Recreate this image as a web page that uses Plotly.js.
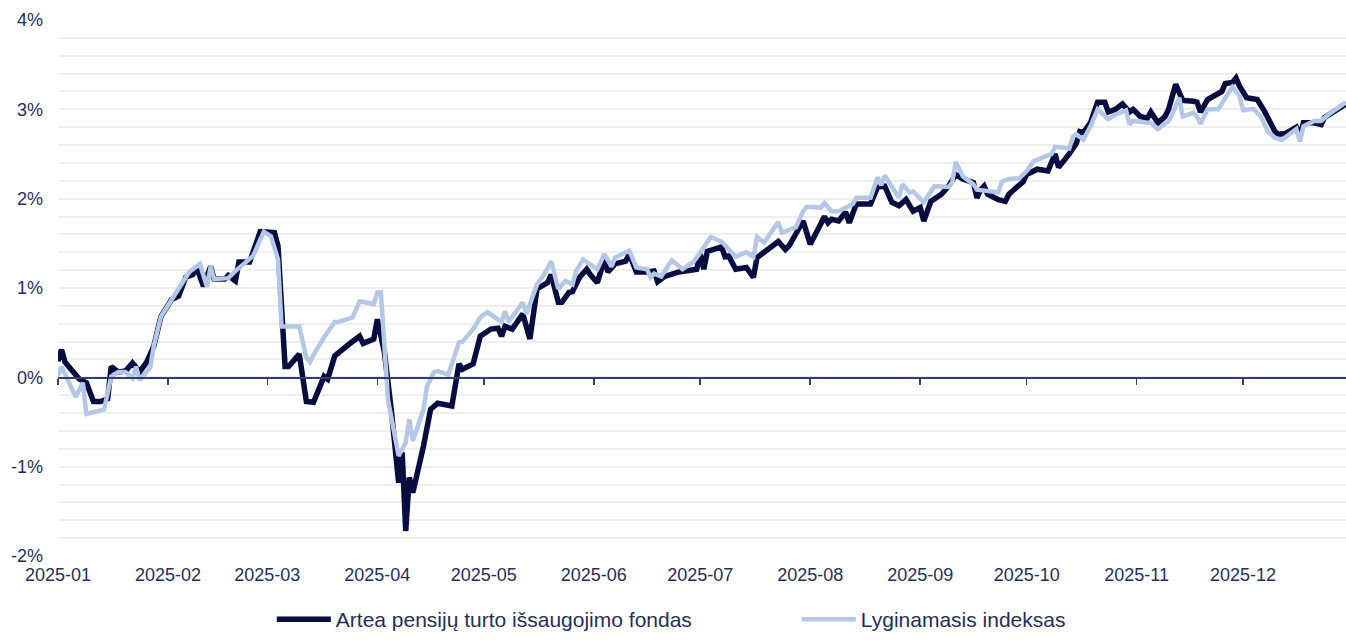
<!DOCTYPE html>
<html>
<head>
<meta charset="utf-8">
<script src="https://cdn.plot.ly/plotly-3.0.1.min.js"></script>
<style>
html,body{margin:0;padding:0;background:#fff;}
#chart{width:1346px;height:640px;}
</style>
</head>
<body>
<div id="chart"></div>
<script>
// ---- Data (percent return since start of year) ----
const seriesNames = ["Artea pensijų turto išsaugojimo fondas", "Lyginamasis indeksas"];

const fundDates = [
"2025-01-01","2025-01-02","2025-01-03","2025-01-06","2025-01-07","2025-01-09","2025-01-11","2025-01-13","2025-01-15","2025-01-16",
"2025-01-18","2025-01-20","2025-01-22","2025-01-24","2025-01-26","2025-01-28","2025-01-30","2025-02-02","2025-02-04","2025-02-06",
"2025-02-08","2025-02-09","2025-02-11","2025-02-13","2025-02-14","2025-02-17","2025-02-18","2025-02-20","2025-02-21","2025-02-24",
"2025-02-25","2025-02-27","2025-03-03","2025-03-04","2025-03-06","2025-03-07","2025-03-10","2025-03-12","2025-03-14","2025-03-17",
"2025-03-18","2025-03-20","2025-03-24","2025-03-27","2025-03-28","2025-03-31","2025-04-01","2025-04-03","2025-04-05","2025-04-07",
"2025-04-08","2025-04-09","2025-04-10","2025-04-11","2025-04-14","2025-04-16","2025-04-18","2025-04-22","2025-04-24","2025-04-25",
"2025-04-28","2025-04-30","2025-05-03","2025-05-05","2025-05-06","2025-05-07","2025-05-09","2025-05-12","2025-05-14","2025-05-16",
"2025-05-19","2025-05-20","2025-05-22","2025-05-23","2025-05-25","2025-05-26","2025-05-28","2025-05-30","2025-05-31","2025-06-02",
"2025-06-04","2025-06-05","2025-06-07","2025-06-10","2025-06-11","2025-06-13","2025-06-16","2025-06-18","2025-06-19","2025-06-21",
"2025-06-25","2025-06-28","2025-06-30","2025-07-01","2025-07-02","2025-07-03","2025-07-07","2025-07-08","2025-07-09","2025-07-11",
"2025-07-14","2025-07-16","2025-07-17","2025-07-19","2025-07-23","2025-07-25","2025-07-26","2025-07-30","2025-08-01","2025-08-04",
"2025-08-05","2025-08-06","2025-08-07","2025-08-09","2025-08-11","2025-08-12","2025-08-14","2025-08-18","2025-08-20","2025-08-22",
"2025-08-24","2025-08-26","2025-08-28","2025-08-30","2025-09-01","2025-09-02","2025-09-04","2025-09-07","2025-09-09","2025-09-11",
"2025-09-13","2025-09-16","2025-09-17","2025-09-18","2025-09-19","2025-09-20","2025-09-23","2025-09-25","2025-09-26","2025-09-30",
"2025-10-01","2025-10-04","2025-10-07","2025-10-09","2025-10-10","2025-10-13","2025-10-15","2025-10-16","2025-10-17","2025-10-19",
"2025-10-21","2025-10-23","2025-10-24","2025-10-26","2025-10-28","2025-10-30","2025-10-31","2025-11-02","2025-11-04","2025-11-05",
"2025-11-07","2025-11-09","2025-11-10","2025-11-12","2025-11-14","2025-11-17","2025-11-18","2025-11-19","2025-11-21","2025-11-25",
"2025-11-26","2025-11-28","2025-11-29","2025-11-30","2025-12-02","2025-12-05","2025-12-07","2025-12-10","2025-12-11","2025-12-13",
"2025-12-16","2025-12-17","2025-12-18","2025-12-21","2025-12-23","2025-12-24","2025-12-27","2025-12-30"
];
const fundValues = [
0.18,0.31,0.17,0.03,-0.02,-0.06,-0.27,-0.27,-0.24,0.12,
0.06,0.07,0.16,0.06,0.17,0.35,0.68,0.87,0.91,1.12,
1.15,1.24,1.02,1.24,1.10,1.10,1.14,1.08,1.29,1.29,
1.40,1.63,1.62,1.47,0.12,0.12,0.26,-0.27,-0.28,0.01,
-0.02,0.24,0.37,0.46,0.38,0.43,0.65,0.28,-0.39,-1.18,
-0.84,-1.72,-1.12,-1.29,-0.77,-0.36,-0.29,-0.32,0.15,0.09,
0.15,0.46,0.54,0.55,0.46,0.57,0.54,0.71,0.43,0.99,
1.06,1.15,0.84,0.84,0.95,0.96,1.12,1.21,1.15,1.06,
1.32,1.18,1.27,1.30,1.38,1.18,1.18,1.19,1.07,1.13,
1.18,1.19,1.21,1.38,1.21,1.41,1.46,1.35,1.36,1.21,
1.23,1.12,1.34,1.40,1.52,1.43,1.47,1.75,1.49,1.72,
1.80,1.73,1.77,1.75,1.85,1.73,1.94,1.94,2.13,2.14,
1.96,1.92,1.99,1.86,1.90,1.75,1.97,2.05,2.14,2.27,
2.22,2.18,2.01,2.10,2.14,2.05,1.99,1.97,2.05,2.19,
2.27,2.33,2.31,2.50,2.35,2.50,2.62,2.75,2.74,2.85,
3.08,3.08,2.97,3.00,3.06,2.97,3.00,2.92,2.90,2.97,
2.85,2.92,3.00,3.28,3.10,3.09,3.08,2.97,3.11,3.20,
3.29,3.30,3.35,3.26,3.13,3.11,2.98,2.75,2.72,2.73,
2.80,2.69,2.85,2.85,2.83,2.91,2.98,3.06
];

const indexDates = [
"2025-01-01","2025-01-02","2025-01-06","2025-01-08","2025-01-09","2025-01-14","2025-01-16","2025-01-18","2025-01-20","2025-01-22",
"2025-01-23","2025-01-24","2025-01-27","2025-01-28","2025-01-30","2025-02-02","2025-02-05","2025-02-07","2025-02-10","2025-02-12",
"2025-02-13","2025-02-14","2025-02-18","2025-02-20","2025-02-25","2025-02-26","2025-02-28","2025-03-02","2025-03-04","2025-03-05",
"2025-03-10","2025-03-12","2025-03-13","2025-03-14","2025-03-17","2025-03-20","2025-03-21","2025-03-25","2025-03-27","2025-03-31",
"2025-04-01","2025-04-02","2025-04-04","2025-04-07","2025-04-09","2025-04-10","2025-04-11","2025-04-14","2025-04-15","2025-04-17",
"2025-04-18","2025-04-21","2025-04-24","2025-04-25","2025-04-28","2025-04-30","2025-05-02","2025-05-06","2025-05-07","2025-05-08",
"2025-05-12","2025-05-13","2025-05-16","2025-05-18","2025-05-20","2025-05-22","2025-05-24","2025-05-26","2025-05-27","2025-05-29",
"2025-05-31","2025-06-02","2025-06-04","2025-06-06","2025-06-07","2025-06-11","2025-06-13","2025-06-16","2025-06-17","2025-06-18",
"2025-06-20","2025-06-23","2025-06-26","2025-06-29","2025-06-30","2025-07-04","2025-07-07","2025-07-09","2025-07-11","2025-07-14",
"2025-07-16","2025-07-17","2025-07-19","2025-07-23","2025-07-24","2025-07-28","2025-07-30","2025-07-31","2025-08-04","2025-08-05",
"2025-08-07","2025-08-09","2025-08-13","2025-08-14","2025-08-18","2025-08-20","2025-08-21","2025-08-22","2025-08-26","2025-08-27",
"2025-08-29","2025-08-30","2025-09-02","2025-09-05","2025-09-09","2025-09-10","2025-09-11","2025-09-13","2025-09-16","2025-09-17",
"2025-09-22","2025-09-23","2025-09-24","2025-09-26","2025-09-29","2025-10-01","2025-10-03","2025-10-08","2025-10-09","2025-10-13",
"2025-10-14","2025-10-15","2025-10-17","2025-10-19","2025-10-21","2025-10-24","2025-10-26","2025-10-29","2025-10-30","2025-10-31",
"2025-11-04","2025-11-05","2025-11-07","2025-11-10","2025-11-11","2025-11-13","2025-11-14","2025-11-17","2025-11-18","2025-11-19",
"2025-11-21","2025-11-24","2025-11-26","2025-11-28","2025-11-30","2025-12-01","2025-12-03","2025-12-04","2025-12-06","2025-12-08",
"2025-12-10","2025-12-12","2025-12-16","2025-12-17","2025-12-18","2025-12-21","2025-12-23","2025-12-25","2025-12-30"
];
const indexValues = [
0.02,0.12,-0.22,-0.06,-0.41,-0.36,0.01,0.06,0.06,-0.01,
0.12,-0.03,0.11,0.35,0.68,0.87,1.06,1.18,1.27,1.01,
1.24,1.10,1.11,1.19,1.36,1.45,1.63,1.58,1.32,0.57,
0.57,0.22,0.17,0.25,0.45,0.62,0.62,0.67,0.85,0.82,
0.95,0.95,-0.25,-0.88,-0.73,-0.47,-0.71,-0.36,-0.10,0.06,
0.07,0.03,0.39,0.40,0.54,0.67,0.73,0.62,0.74,0.62,
0.84,0.71,1.04,1.15,1.30,0.99,1.08,1.04,1.19,1.32,
1.27,1.21,1.38,1.24,1.34,1.42,1.23,1.21,1.12,1.16,
1.13,1.31,1.21,1.29,1.34,1.57,1.52,1.43,1.35,1.40,
1.35,1.57,1.51,1.74,1.62,1.68,1.86,1.91,1.90,1.95,
1.86,1.86,1.94,2.01,2.01,2.24,2.15,2.26,2.01,2.16,
2.07,2.08,1.96,2.14,2.13,2.18,2.41,2.25,2.16,2.10,
2.07,2.07,2.19,2.22,2.23,2.31,2.42,2.50,2.58,2.56,
2.69,2.72,2.66,2.81,3.00,2.89,2.94,2.99,2.83,2.87,
2.85,2.85,2.78,2.87,2.94,3.13,2.92,2.96,2.92,2.84,
3.00,3.00,3.13,3.25,3.15,2.99,3.00,3.00,2.92,2.75,
2.68,2.66,2.78,2.64,2.81,2.87,2.87,2.94,3.08
];

const yTickVals = [-2, -1, 0, 1, 2, 3, 4];
const yTickText = ["-2%", "-1%", "0%", "1%", "2%", "3%", "4%"];
const xRange = ["2025-01-01", "2025-12-30"];

// ---- Styles ----
const textColor = "#1f2f5c";
const darkColor = "#080c3e";
const lightColor = "#b4c7e7";
const gridColor = "#efefef";
const font = "Liberation Sans, Arial, sans-serif";

const traces = [
  {x: fundDates, y: fundValues, name: seriesNames[0], type: "scatter", mode: "lines",
   line: {color: darkColor, width: 5.5}, hoverinfo: "x+y"},
  {x: indexDates, y: indexValues, name: seriesNames[1], type: "scatter", mode: "lines",
   line: {color: lightColor, width: 4.5}, hoverinfo: "x+y"},
  {x: fundDates, y: fundValues, xaxis: "x2", yaxis: "y", type: "scatter", mode: "lines",
   line: {width: 0, color: "rgba(0,0,0,0)"}, showlegend: false, hoverinfo: "skip"}
];

const layout = {
  width: 1346, height: 640,
  margin: {l: 58, r: 0, t: 20, b: 84},
  paper_bgcolor: "#fff", plot_bgcolor: "#fff",
  font: {family: font, size: 18, color: textColor},
  showlegend: true,
  legend: {orientation: "h", x: 0.166, xanchor: "left", y: -84/536, yanchor: "bottom",
           font: {family: font, size: 21, color: textColor}, entrywidth: 456, itemwidth: 54,
           bgcolor: "rgba(0,0,0,0)", tracegroupgap: 0},
  xaxis: {type: "date", range: xRange, tick0: "2025-01-01", dtick: "M1", tickformat: "%Y-%m",
          showgrid: false, zeroline: false, showline: false, ticks: "", ticklabelstandoff: 6,
          tickfont: {family: font, size: 18, color: textColor}, fixedrange: true},
  xaxis2: {type: "date", overlaying: "x", matches: "x", anchor: "free", position: 1/3,
           tick0: "2025-01-01", dtick: "M1", showticklabels: false, showgrid: false, zeroline: false,
           showline: true, linecolor: "#2e3d6b", linewidth: 1.5,
           ticks: "outside", ticklen: 6, tickwidth: 1.5, tickcolor: "#2e3d6b"},
  yaxis: {range: [-2, 4], tickvals: yTickVals, ticktext: yTickText, ticks: "",
          showgrid: true, gridcolor: gridColor, gridwidth: 2, zeroline: false, showline: false,
          minor: {dtick: 0.2, showgrid: true, gridcolor: gridColor, gridwidth: 2},
          ticklabelstandoff: 14, tickfont: {family: font, size: 18, color: textColor}, fixedrange: true}
};

Plotly.newPlot("chart", traces, layout, {displayModeBar: false, staticPlot: true});
</script>
</body>
</html>
